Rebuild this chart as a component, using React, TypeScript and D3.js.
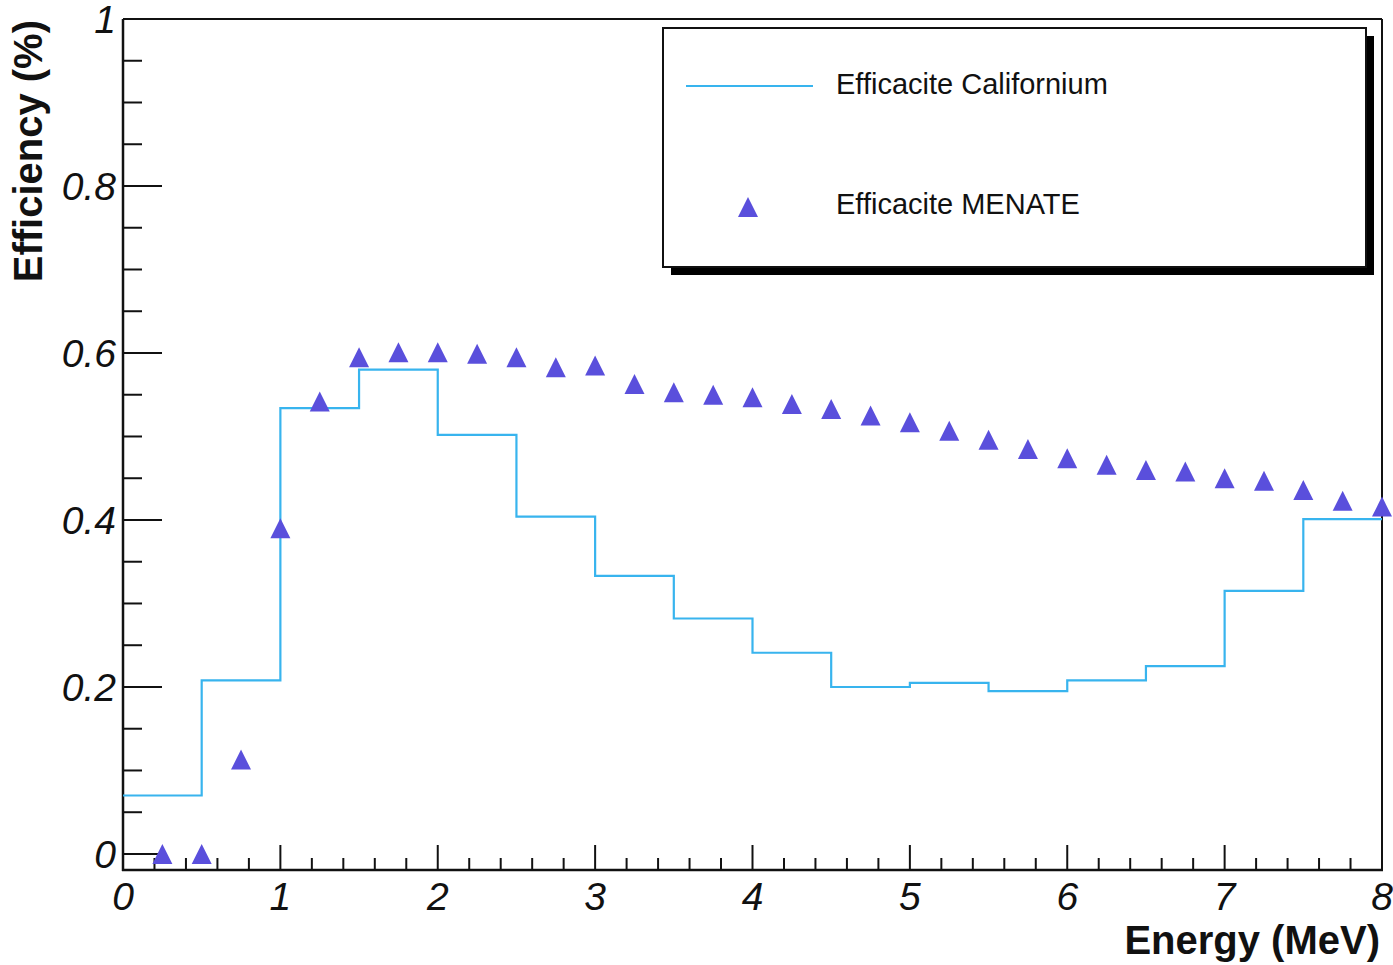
import React from "react";
import { scaleLinear, line, curveStepAfter, range, path as d3path } from "d3";

// Californium histogram: bin lower edges (MeV) and efficiency per bin
const binEdges = [0, 0.5, 1, 1.5, 2, 2.5, 3, 3.5, 4, 4.5, 5, 5.5, 6, 6.5, 7, 7.5, 8];
const californium = [0.07, 0.208, 0.534, 0.58, 0.502, 0.404, 0.333, 0.282, 0.241, 0.2, 0.205, 0.195, 0.208, 0.225, 0.315, 0.401];

// MENATE simulation points
const menateEnergy = [
  0.25, 0.5, 0.75, 1, 1.25, 1.5, 1.75, 2, 2.25, 2.5, 2.75, 3, 3.25, 3.5, 3.75, 4,
  4.25, 4.5, 4.75, 5, 5.25, 5.5, 5.75, 6, 6.25, 6.5, 6.75, 7, 7.25, 7.5, 7.75, 8,
];
const menateEff = [
  0.0, 0.0, 0.113, 0.39, 0.542, 0.595, 0.601, 0.601, 0.599, 0.595, 0.583, 0.585, 0.563, 0.553, 0.55, 0.547,
  0.539, 0.533, 0.525, 0.517, 0.507, 0.496, 0.485, 0.474, 0.466, 0.46, 0.458, 0.45, 0.447, 0.436, 0.423, 0.416,
];

const xTickLabels = ["0", "1", "2", "3", "4", "5", "6", "7", "8"];
const yTickLabels = ["0", "0.2", "0.4", "0.6", "0.8", "1"];
const legendLabels = ["Efficacite Californium", "Efficacite MENATE"];

const W = 1393;
const H = 965;
const left = 123;
const right = 1382;
const top = 19;
const bottom = 870;

const lineColor = "#38b4ee";
const markerColor = "#5a4fdc";
const font = "'Liberation Sans', Arial, Helvetica, sans-serif";

const triangle = (cx: number, cy: number, r: number) => {
  const p = d3path();
  p.moveTo(cx - r, cy + r);
  p.lineTo(cx + r, cy + r);
  p.lineTo(cx, cy - r);
  p.closePath();
  return p.toString();
};

const App = () => {
  const x = scaleLinear().domain([0, 8]).range([left, right]);
  const y = scaleLinear().domain([-0.0192, 1.0]).range([bottom, top]);

  const stepPts: [number, number][] = binEdges.map((e, i) => [
    e,
    californium[Math.min(i, californium.length - 1)],
  ]);
  const stepLine = line<[number, number]>()
    .x((d) => x(d[0]))
    .y((d) => y(d[1]))
    .curve(curveStepAfter);

  const xMajor = xTickLabels.map((t) => +t);
  const xMinor = range(0, 8.0001, 0.2).filter((v) => Math.abs(v - Math.round(v)) > 1e-6);
  const yMajor = yTickLabels.map((t) => +t);
  const yMinor = range(0.05, 1, 0.05).filter((v) => Math.abs(v * 5 - Math.round(v * 5)) > 1e-6);

  const lg = { x: 663, y: 28, w: 703, h: 239, sh: 8 };

  return (
    <div style={{ position: "absolute", left: 0, top: 0 }}>
      <svg width={W} height={H} style={{ display: "block", background: "#fff" }}>
        {/* frame */}
        <line x1={left} x2={right} y1={top} y2={top} stroke="#111" strokeWidth={2} />
        <line x1={right} x2={right} y1={top} y2={bottom} stroke="#111" strokeWidth={2} />
        <line x1={left} x2={left} y1={top} y2={bottom + 1} stroke="#111" strokeWidth={2.5} />
        <line x1={left - 1} x2={right + 1} y1={bottom} y2={bottom} stroke="#111" strokeWidth={2.5} />

        {/* x ticks */}
        {xMajor.map((v) => (
          <line key={"xM" + v} x1={x(v)} x2={x(v)} y1={bottom} y2={bottom - 25} stroke="#111" strokeWidth={2} />
        ))}
        {xMinor.map((v, i) => (
          <line key={"xm" + i} x1={x(v)} x2={x(v)} y1={bottom} y2={bottom - 12} stroke="#111" strokeWidth={2} />
        ))}
        {xTickLabels.map((t) => (
          <text key={"xl" + t} x={x(+t)} y={910} textAnchor="middle" fontFamily={font} fontStyle="italic" fontSize={39} fill="#111">
            {t}
          </text>
        ))}

        {/* y ticks */}
        {yMajor.map((v) => (
          <line key={"yM" + v} x1={left} x2={left + 39} y1={y(v)} y2={y(v)} stroke="#111" strokeWidth={2} />
        ))}
        {yMinor.map((v, i) => (
          <line key={"ym" + i} x1={left} x2={left + 19} y1={y(v)} y2={y(v)} stroke="#111" strokeWidth={2} />
        ))}
        {yTickLabels.map((t) => (
          <text key={"yl" + t} x={116} y={y(+t)} dy="0.36em" textAnchor="end" fontFamily={font} fontStyle="italic" fontSize={39} fill="#111">
            {t}
          </text>
        ))}

        {/* axis titles */}
        <text x={1380} y={954} textAnchor="end" fontFamily={font} fontWeight="bold" fontSize={40} fill="#111">
          Energy (MeV)
        </text>
        <text transform="translate(42,20) rotate(-90)" textAnchor="end" fontFamily={font} fontWeight="bold" fontSize={40} fill="#111">
          Efficiency (%)
        </text>

        {/* californium histogram */}
        <path d={stepLine(stepPts) || ""} fill="none" stroke={lineColor} strokeWidth={2.2} />

        {/* MENATE triangles */}
        {menateEnergy.map((e, i) => (
          <path key={"m" + i} d={triangle(x(e), y(menateEff[i]), 10)} fill={markerColor} />
        ))}

        {/* legend */}
        <rect x={lg.x + lg.sh} y={lg.y + lg.sh} width={lg.w} height={lg.h} fill="#000" />
        <rect x={lg.x} y={lg.y} width={lg.w} height={lg.h} fill="#fff" stroke="#111" strokeWidth={2} />
        <line x1={686} x2={813} y1={86} y2={86} stroke={lineColor} strokeWidth={2.2} />
        <path d={triangle(748, 207, 10)} fill={markerColor} />
        <text x={836} y={94} fontFamily={font} fontSize={29} fill="#111">
          {legendLabels[0]}
        </text>
        <text x={836} y={214} fontFamily={font} fontSize={29} fill="#111">
          {legendLabels[1]}
        </text>
      </svg>
    </div>
  );
};

export default App;
